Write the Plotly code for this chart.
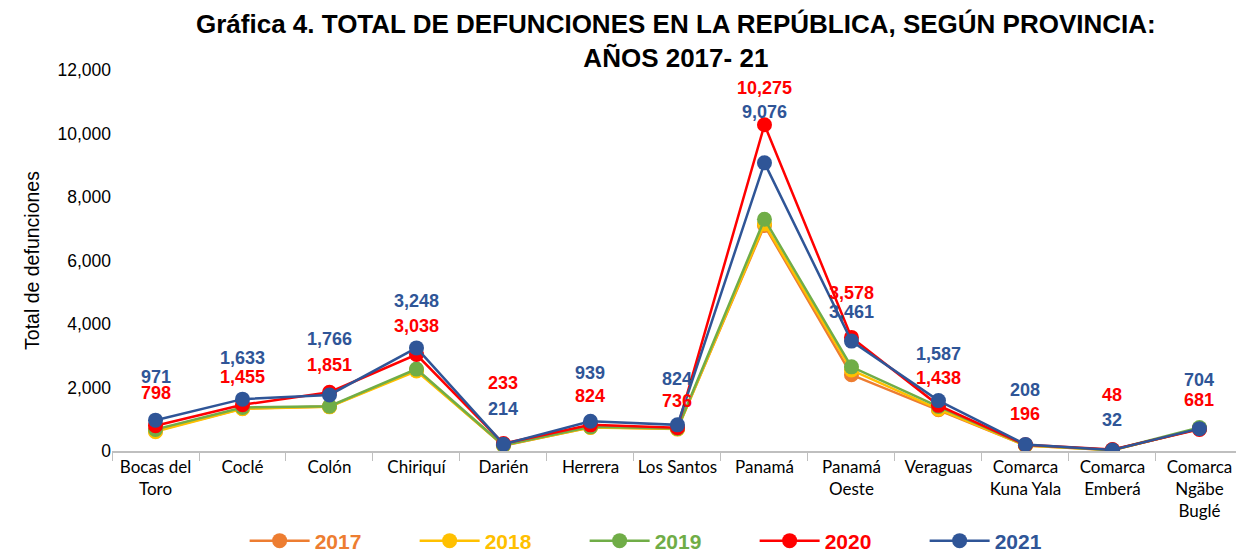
import plotly.graph_objects as go

provincias = [
    "Bocas del<br>Toro", "Coclé", "Colón", "Chiriquí", "Darién", "Herrera",
    "Los Santos", "Panamá", "Panamá<br>Oeste", "Veraguas",
    "Comarca<br>Kuna Yala", "Comarca<br>Emberá", "Comarca<br>Ngäbe<br>Buglé",
]
d2017 = [640, 1340, 1400, 2550, 170, 750, 700, 7100, 2400, 1300, 175, 25, 710]
d2018 = [610, 1330, 1390, 2520, 175, 740, 690, 7150, 2550, 1320, 170, 28, 700]
d2019 = [680, 1370, 1410, 2580, 180, 760, 710, 7300, 2650, 1400, 185, 30, 740]
d2020 = [798, 1455, 1851, 3038, 233, 824, 736, 10275, 3578, 1438, 196, 48, 681]
d2021 = [971, 1633, 1766, 3248, 214, 939, 824, 9076, 3461, 1587, 208, 32, 704]

# desplazamiento vertical (px) de las etiquetas 2020 / 2021
shift2020 = [33, 28, 27, 29, 61, 29, 27, 37, 44, 27, 31, 54, 29]
shift2021 = [43, 41, 56, 47, 35, 48, 46, 51, 29, 47, 54, 30, 49]

series = [
    ("2017", d2017, "#ED7D31"),
    ("2018", d2018, "#FFC000"),
    ("2019", d2019, "#70AD47"),
    ("2020", d2020, "#FF0000"),
    ("2021", d2021, "#2F5597"),
]

fig = go.Figure()
for name, vals, color in series:
    fig.add_trace(go.Scatter(
        x=provincias, y=vals, mode="lines+markers",
        name=f"<b><span style='color:{color}'>{name}</span></b>",
        line=dict(color=color, width=2.5),
        marker=dict(color=color, size=15),
    ))

for vals, shifts, color in [(d2020, shift2020, "#FF0000"), (d2021, shift2021, "#2F5597")]:
    for cat, v, s in zip(provincias, vals, shifts):
        fig.add_annotation(
            x=cat, y=v, text=f"<b>{v:,}</b>", showarrow=False,
            yshift=s, font=dict(family="Liberation Sans, Arial", size=18, color=color),
        )

# título como anotación (dos líneas)
fig.add_annotation(
    xref="paper", yref="paper", x=0.502, y=1.165, xanchor="center", yanchor="top",
    text="<b>Gráfica 4. TOTAL DE DEFUNCIONES EN LA REPÚBLICA, SEGÚN PROVINCIA:<br>AÑOS 2017- 21</b>",
    showarrow=False, font=dict(family="Liberation Sans, Arial", size=26, color="black"),
)

fig.update_layout(
    width=1236, height=556,
    paper_bgcolor="white", plot_bgcolor="white",
    margin=dict(l=112, r=0, t=70, b=105),
    font=dict(family="Liberation Sans, Arial", color="black"),
    legend=dict(
        orientation="h", x=0.118, xanchor="left",
        yref="container", y=0.027, yanchor="middle",
        entrywidth=95, itemwidth=60,
        font=dict(family="Liberation Sans, Arial", size=21),
    ),
    showlegend=True,
)

fig.update_xaxes(
    range=[-0.5, 12.42],
    showline=True, linecolor="#BFBFBF", linewidth=1.5,
    ticks="outside", tickson="boundaries", ticklen=8, tickcolor="#BFBFBF",
    tickangle=0,
    tickfont=dict(family="Lato, Carlito, Calibri", size=17, color="black"),
    showgrid=False, automargin=False,
)
fig.update_yaxes(
    range=[0, 12000], dtick=2000, tickformat=",d",
    showgrid=False, zeroline=False, showline=False,
    tickfont=dict(size=17.5, color="black"), automargin=False,
    title=dict(text="Total de defunciones", font=dict(size=19.5, color="black"), standoff=12),
)

fig.write_html("out.html", config={"displayModeBar": False},
               post_script="document.body.style.margin='0px';")
